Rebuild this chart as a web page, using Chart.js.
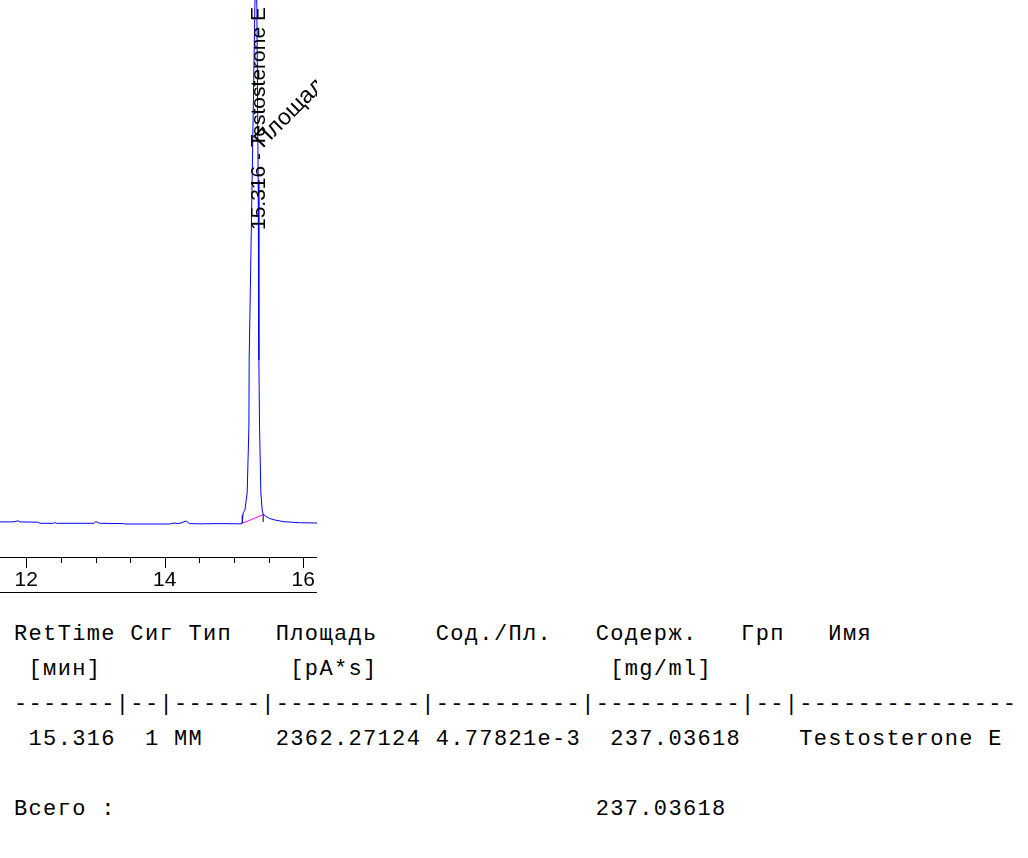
<!DOCTYPE html>
<html>
<head>
<meta charset="utf-8">
<script src="https://cdn.jsdelivr.net/npm/chart.js@4/dist/chart.umd.min.js"></script>
<style>
  body { margin: 0; background: #fff; width: 1028px; height: 858px; overflow: hidden; position: relative; }
  #wrap { position: absolute; left: 0; top: 0; width: 317px; height: 593px; }
  pre.report {
    position: absolute; left: 14px; top: 617px; margin: 0;
    font-family: "Liberation Mono", monospace; font-size: 22px; letter-spacing: 1.34px;
    line-height: 35px; color: #000; white-space: pre;
  }
</style>
</head>
<body>
<div id="wrap"><canvas id="chrom" width="317" height="593"></canvas></div>
<pre class="report">RetTime Сиг Тип   Площадь    Сод./Пл.   Содерж.   Грп   Имя
 [мин]             [pA*s]                [mg/ml]
-------|--|------|----------|----------|----------|--|---------------
 15.316  1 MM     2362.27124 4.77821e-3  237.03618    Testosterone E

Всего :                                 237.03618</pre>
<script>
// signal trace, time in min, response in pA
const times = [11.62, 11.79, 11.85, 11.88, 11.91, 12.17, 12.20, 12.39, 12.41, 12.44,
  12.98, 13.00, 13.02, 13.06, 13.40, 13.42, 14.07, 14.13, 14.19, 14.25, 14.28, 14.31,
  14.36, 14.51, 14.80, 15.10, 15.12, 15.133, 15.158, 15.191, 15.216, 15.22, 15.263,
  15.302, 15.317, 15.331, 15.35, 15.36, 15.37, 15.389, 15.408, 15.422, 15.461, 15.519,
  15.59, 15.71, 15.95, 16.2]
const signal = [6.3, 6.3, 6.4, 6.5, 6.3, 6.25, 6.05, 6.05, 6.2, 6.05,
  6.05, 6.35, 6.3, 6.05, 6.0, 5.92, 5.92, 6.1, 6.0, 6.15, 6.35, 6.45,
  6.0, 5.95, 6.0, 5.95, 6.1, 7.9, 8.4, 11.5, 23.3, 35.4, 67.7,
  98.7, 106, 98.7, 67.7, 35.4, 23.3, 11.5, 8.4, 7.7, 7.3, 6.9,
  6.65, 6.35, 6.15, 6.1]

// integration: start / end of the peak
const peakStart = [15.12, 6.05, 7.55]   // time, low, high
const peakEnd = [15.422, 6.3, 7.7]
const baselineY = [6.05, 7.6]

const peakTime = 15.316
const peakName = "Testosterone E"
const peakArea = "2362.27"

const xMin = 11.62
const xMax = 16.2

const toPoints = (xs, ys) => xs.map((x, i) => ({ x: x, y: ys[i] }))

// minor / major tick marks and the frame line under the labels
const ticksPlugin = {
  id: "chromTicks",
  afterDraw(chart) {
    const ctx = chart.ctx
    const xs = chart.scales.x
    ctx.save()
    ctx.strokeStyle = "#000"
    ctx.lineWidth = 1
    xs.ticks.forEach((t) => {
      const px = Math.round(xs.getPixelForValue(t.value)) + 0.5
      const len = t.value % 2 === 0 ? 11 : 6
      ctx.beginPath()
      ctx.moveTo(px, xs.top)
      ctx.lineTo(px, xs.top + len)
      ctx.stroke()
    })
    ctx.beginPath()
    ctx.moveTo(0, xs.bottom - 0.5)
    ctx.lineTo(chart.width, xs.bottom - 0.5)
    ctx.stroke()
    ctx.restore()
  },
}

// peak labels
const labelPlugin = {
  id: "peakLabels",
  afterDatasetsDraw(chart) {
    const ctx = chart.ctx
    const px = chart.scales.x.getPixelForValue(peakTime)
    ctx.save()
    ctx.fillStyle = "#000"
    ctx.textBaseline = "alphabetic"
    ctx.save()
    ctx.font = "21px 'Liberation Sans', Arial, sans-serif"
    ctx.translate(px + 9, chart.scales.y.getPixelForValue(58.7))
    ctx.rotate(-Math.PI / 2)
    ctx.fillText(peakTime.toFixed(3) + " - " + peakName, 0, 0)
    ctx.restore()
    ctx.font = "23px 'Liberation Sans', Arial, sans-serif"
    ctx.translate(px + 7, chart.scales.y.getPixelForValue(73.3))
    ctx.rotate(-Math.PI / 4)
    ctx.fillText("Площадь: " + peakArea, 0, 0)
    ctx.restore()
  },
}

new Chart(document.getElementById("chrom").getContext("2d"), {
  type: "line",
  data: {
    datasets: [
      {
        data: toPoints(times, signal),
        borderColor: "rgb(0, 0, 255)",
        borderWidth: 1,
        pointRadius: 0,
        tension: 0,
      },
      {
        data: toPoints([peakStart[0], peakEnd[0]], baselineY),
        borderColor: "rgb(255, 0, 255)",
        borderWidth: 1,
        pointRadius: 0,
      },
      {
        data: toPoints([peakStart[0], peakStart[0]], [peakStart[1], peakStart[2]]),
        borderColor: "#000",
        borderWidth: 1,
        pointRadius: 0,
      },
      {
        data: toPoints([peakEnd[0], peakEnd[0]], [peakEnd[1], peakEnd[2]]),
        borderColor: "#000",
        borderWidth: 1,
        pointRadius: 0,
      },
    ],
  },
  options: {
    responsive: false,
    animation: false,
    layout: { padding: 0 },
    plugins: {
      legend: { display: false },
      tooltip: { enabled: false },
    },
    scales: {
      x: {
        type: "linear",
        min: xMin,
        max: xMax,
        afterFit: (s) => {
          s.height = 36
          s.paddingLeft = 0
          s.paddingRight = 0
        },
        border: { display: true, color: "#000", width: 1 },
        grid: { drawOnChartArea: false, drawTicks: false },
        ticks: {
          stepSize: 0.5,
          includeBounds: false,
          autoSkip: false,
          maxRotation: 0,
          padding: 11,
          color: "#000",
          font: { family: "'Liberation Sans', Arial, sans-serif", size: 21 },
          callback: (v) => (v % 2 === 0 ? String(v) : ""),
        },
      },
      y: { display: false, min: 0, max: 100 },
    },
  },
  plugins: [ticksPlugin, labelPlugin],
})
</script>
</body>
</html>
